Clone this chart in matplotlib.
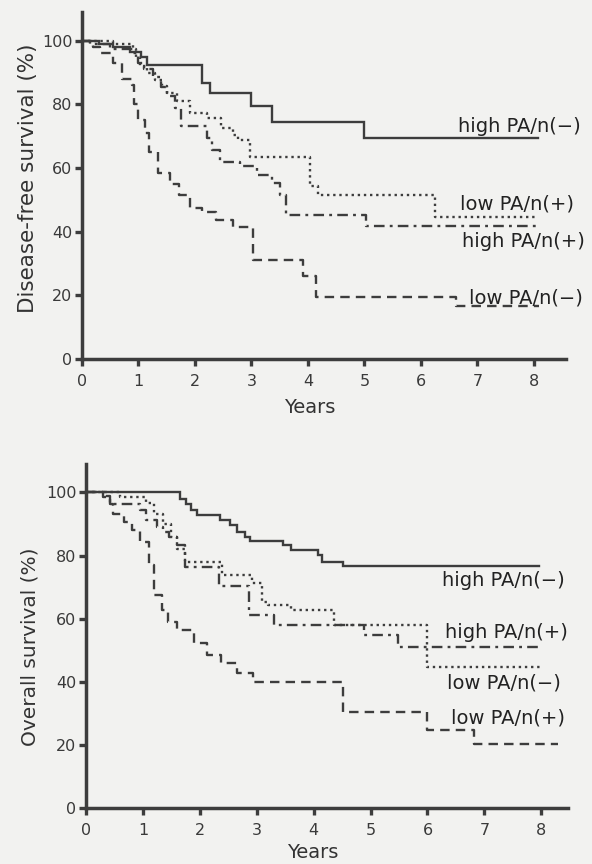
import matplotlib.pyplot as plt

# disease-free survival (top panel): step times (years) and levels (%)
dfs_t_high_neg = [0, 0.3, 0.55, 0.85, 1.05, 1.15, 2.12, 2.27, 2.99, 3.36, 5.0]
dfs_v_high_neg = [100, 99, 98, 96.5, 95, 92.5, 86.7, 83.6, 79.5, 74.6, 69.3]
dfs_t_low_pos = [0, 0.55, 0.9, 0.95, 1.02, 1.15, 1.3, 1.42, 1.5, 1.68, 1.91, 2.21, 2.47, 2.68, 2.77, 2.97, 4.04, 4.18, 6.25]
dfs_v_low_pos = [100, 99, 97.5, 95, 92, 89.8, 87.7, 85.6, 83.5, 80.9, 77.4, 75.8, 72.6, 70.4, 68.9, 63.6, 54.2, 51.6, 44.5]
dfs_t_high_pos = [0, 0.15, 0.5, 0.9, 1.0, 1.1, 1.25, 1.4, 1.5, 1.65, 1.75, 2.21, 2.3, 2.44, 2.8, 3.09, 3.36, 3.5, 3.62, 5.03]
dfs_v_high_pos = [100, 99, 97.5, 96, 93, 91, 88.5, 85.5, 82.5, 79, 73.3, 69.5, 65.7, 62.0, 60.5, 57.9, 55.3, 51.6, 45.3, 41.7]
dfs_t_low_neg = [0, 0.2, 0.32, 0.55, 0.7, 0.88, 0.92, 1.0, 1.12, 1.18, 1.35, 1.56, 1.71, 1.91, 2.12, 2.38, 2.68, 3.03, 3.92, 4.15, 6.63]
dfs_v_low_neg = [100, 98, 96, 93, 88, 86, 80, 75, 71, 65, 58.5, 55, 51.5, 47.5, 46.3, 43.7, 41.6, 31, 26, 19.5, 16.5]

# overall survival (bottom panel)
os_t_high_neg = [0, 1.65, 1.75, 1.85, 1.95, 2.35, 2.53, 2.65, 2.8, 2.88, 3.47, 3.6, 4.08, 4.15, 4.52]
os_v_high_neg = [100, 98, 96.4, 94.3, 92.7, 91.1, 89.6, 87.4, 85.9, 84.6, 83.2, 81.7, 80.1, 77.9, 76.6]
os_t_high_pos = [0, 0.33, 0.42, 0.95, 1.05, 1.25, 1.35, 1.45, 1.6, 1.74, 2.33, 2.87, 3.3, 4.88, 5.49]
os_v_high_pos = [100, 99, 96.4, 94.3, 91.1, 89.0, 87.4, 85.9, 83.2, 76.4, 70.3, 61.3, 57.9, 54.7, 51.0]
os_t_low_neg = [0, 0.6, 1.05, 1.2, 1.35, 1.5, 1.6, 1.74, 2.39, 2.91, 3.09, 3.2, 3.61, 4.35, 6.0]
os_v_low_neg = [100, 98.5, 96.5, 93, 90, 86, 82, 77.9, 73.7, 71.2, 65.3, 64.2, 62.7, 57.9, 44.7]
os_t_low_pos = [0, 0.3, 0.42, 0.48, 0.66, 0.8, 0.95, 1.1, 1.2, 1.34, 1.44, 1.6, 1.9, 2.12, 2.38, 2.65, 2.94, 4.52, 6.0, 6.81]
os_v_low_pos = [100, 98.5, 96.4, 93.3, 90.6, 88.0, 84.3, 76.9, 67.4, 62.7, 58.9, 56.3, 52.2, 48.4, 45.9, 42.7, 40.0, 30.5, 24.7, 20.3]

y_ticks = [0, 20, 40, 60, 80, 100]
x_ticks = [0, 1, 2, 3, 4, 5, 6, 7, 8]

ink = '#3d3d3d'
paper = '#f2f2f0'
solid = '-'
dotted = (0, (1, 1.6))
dashdot = (0, (4.5, 2.2, 1.2, 2.2))
dashed = (0, (4, 2.6))

fig = plt.figure(figsize=(5.92, 8.64), dpi=100, facecolor=paper)


def curve(ax, t, v, end, ls):
    ax.step(t + [end], v + [v[-1]], where='post', color=ink, lw=1.7, ls=ls,
            solid_joinstyle='miter', clip_on=False)


def panel(rect, xmax):
    ax = fig.add_axes(rect)
    ax.set_facecolor('none')
    ax.set_xlim(0, xmax)
    ax.set_ylim(0, 109)
    for s in ['top', 'right']:
        ax.spines[s].set_visible(False)
    for s in ['left', 'bottom']:
        ax.spines[s].set_linewidth(2.5)
        ax.spines[s].set_color(ink)
    ax.set_xticks(x_ticks)
    ax.set_yticks(y_ticks)
    ax.tick_params(direction='out', length=5, width=2.4, color=ink,
                   labelcolor='#3a3a3a', labelsize=11.5)
    ax.tick_params(axis='x', pad=6)
    ax.tick_params(axis='y', pad=2)
    return ax


# top panel
ax1 = panel([82 / 592, 1 - 359 / 864, 484 / 592, 347 / 864], 8.57)
curve(ax1, dfs_t_high_neg, dfs_v_high_neg, 8.07, solid)
curve(ax1, dfs_t_low_pos, dfs_v_low_pos, 8.07, dotted)
curve(ax1, dfs_t_high_pos, dfs_v_high_pos, 8.07, dashdot)
curve(ax1, dfs_t_low_neg, dfs_v_low_neg, 8.1, dashed)
lab = dict(fontsize=14, color='#222222', va='center', ha='left')
ax1.text(6.65, 73, 'high PA/n(\u2212)', **lab)
ax1.text(6.69, 48.7, 'low PA/n(+)', **lab)
ax1.text(6.73, 36.8, 'high PA/n(+)', **lab)
ax1.text(6.85, 19.2, 'low PA/n(\u2212)', **lab)

# bottom panel
ax2 = panel([86 / 592, 1 - 808 / 864, 482 / 592, 344 / 864], 8.47)
curve(ax2, os_t_high_neg, os_v_high_neg, 7.96, solid)
curve(ax2, os_t_high_pos, os_v_high_pos, 8.0, dashdot)
curve(ax2, os_t_low_neg, os_v_low_neg, 8.0, dotted)
curve(ax2, os_t_low_pos, os_v_low_pos, 8.3, dashed)
ax2.text(6.25, 72.2, 'high PA/n(\u2212)', **lab)
ax2.text(6.31, 55.5, 'high PA/n(+)', **lab)
ax2.text(6.35, 39.6, 'low PA/n(\u2212)', **lab)
ax2.text(6.41, 28.6, 'low PA/n(+)', **lab)

# axis titles
fig.text(28 / 592, 1 - 178 / 864, 'Disease-free survival (%)', rotation=90,
         fontsize=15.5, color='#333333', ha='center', va='center')
fig.text(30 / 592, 1 - 647 / 864, 'Overall survival (%)', rotation=90,
         fontsize=14.5, color='#333333', ha='center', va='center')
fig.text(310 / 592, 1 - 407 / 864, 'Years', fontsize=14, color='#333333',
         ha='center', va='center')
fig.text(313 / 592, 1 - 852 / 864, 'Years', fontsize=14, color='#333333',
         ha='center', va='center')

fig.savefig('out.png', dpi=100, facecolor=paper)
